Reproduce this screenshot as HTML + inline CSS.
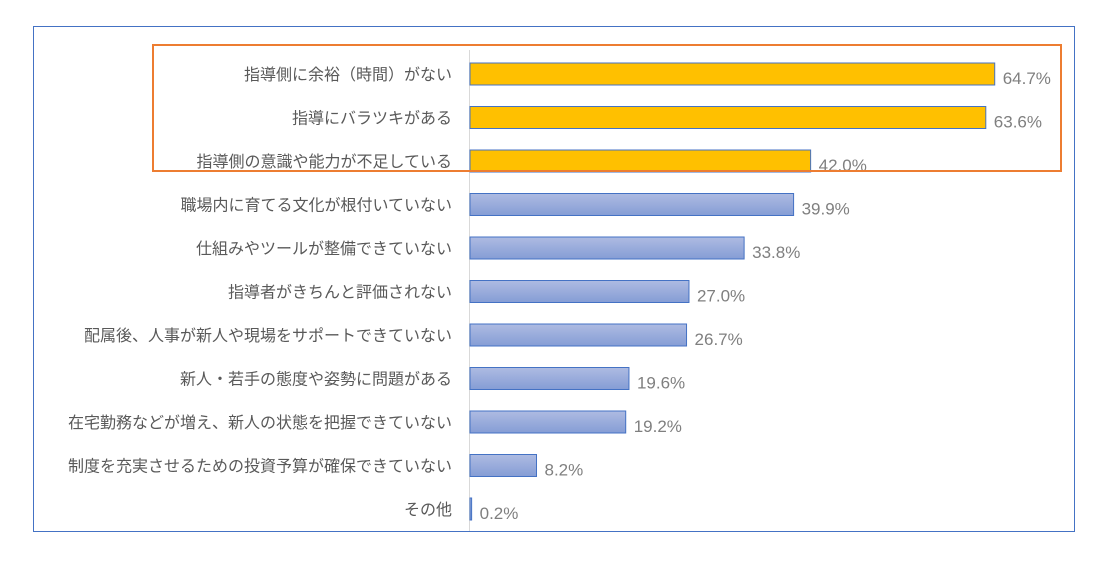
<!DOCTYPE html>
<html><head><meta charset="utf-8"><style>
body{margin:0;background:#fff;}
svg{display:block;font-family:"Liberation Sans","Noto Sans CJK JP",sans-serif;}
</style></head><body>
<svg width="1093" height="579">
<defs><linearGradient id="bg" x1="0" y1="0" x2="0" y2="1"><stop offset="0" stop-color="#aebbe2"/><stop offset="1" stop-color="#859dd5"/></linearGradient></defs>
<rect x="33.5" y="26.5" width="1041" height="505" fill="#fff" stroke="#4472c4"/>
<line x1="469.5" y1="50" x2="469.5" y2="531" stroke="#d9d9d9"/>
<g id="bars"></g>
<rect x="153" y="45" width="908" height="126" fill="none" stroke="#ed7d31" stroke-width="2"/>
</svg>
<script>
const categories=["指導側に余裕（時間）がない","指導にバラツキがある","指導側の意識や能力が不足している","職場内に育てる文化が根付いていない","仕組みやツールが整備できていない","指導者がきちんと評価されない","配属後、人事が新人や現場をサポートできていない","新人・若手の態度や姿勢に問題がある","在宅勤務などが増え、新人の状態を把握できていない","制度を充実させるための投資予算が確保できていない","その他"];
const values=[64.7,63.6,42.0,39.9,33.8,27.0,26.7,19.6,19.2,8.2,0.2];
const highlighted=[true,true,true,false,false,false,false,false,false,false,false];
const NS="http://www.w3.org/2000/svg";
const g=document.getElementById('bars');
const x0=470, pxPer=8.11, top0=74, step=43.5, bh=22;
const xs=v=>x0+v*pxPer;
const ys=i=>top0+i*step;
categories.forEach((c,i)=>{
  const cy=ys(i);
  const r=document.createElementNS(NS,'rect');
  
  
  r.setAttribute('x',x0);r.setAttribute('y',cy-bh/2);
  r.setAttribute('width',Math.max(xs(values[i])-x0,1.5));r.setAttribute('height',bh);
  r.setAttribute('fill',highlighted[i]?'#ffc000':'url(#bg)');
  r.setAttribute('stroke','#4472c4');r.setAttribute('stroke-width','1');
  g.appendChild(r);
  const t=document.createElementNS(NS,'text');
  
  
  t.setAttribute('x',452);t.setAttribute('y',cy+6);
  t.setAttribute('text-anchor','end');t.setAttribute('font-size','16');t.setAttribute('fill','#595959');
  t.textContent=c;g.appendChild(t);
  const v=document.createElementNS(NS,'text');
  
  
  v.setAttribute('x',xs(values[i])+8);v.setAttribute('y',cy+10);
  v.setAttribute('font-size','17');v.setAttribute('fill','#7f7f7f');
  v.textContent=values[i].toFixed(1)+'%';g.appendChild(v);
});
</script>
</body></html>
